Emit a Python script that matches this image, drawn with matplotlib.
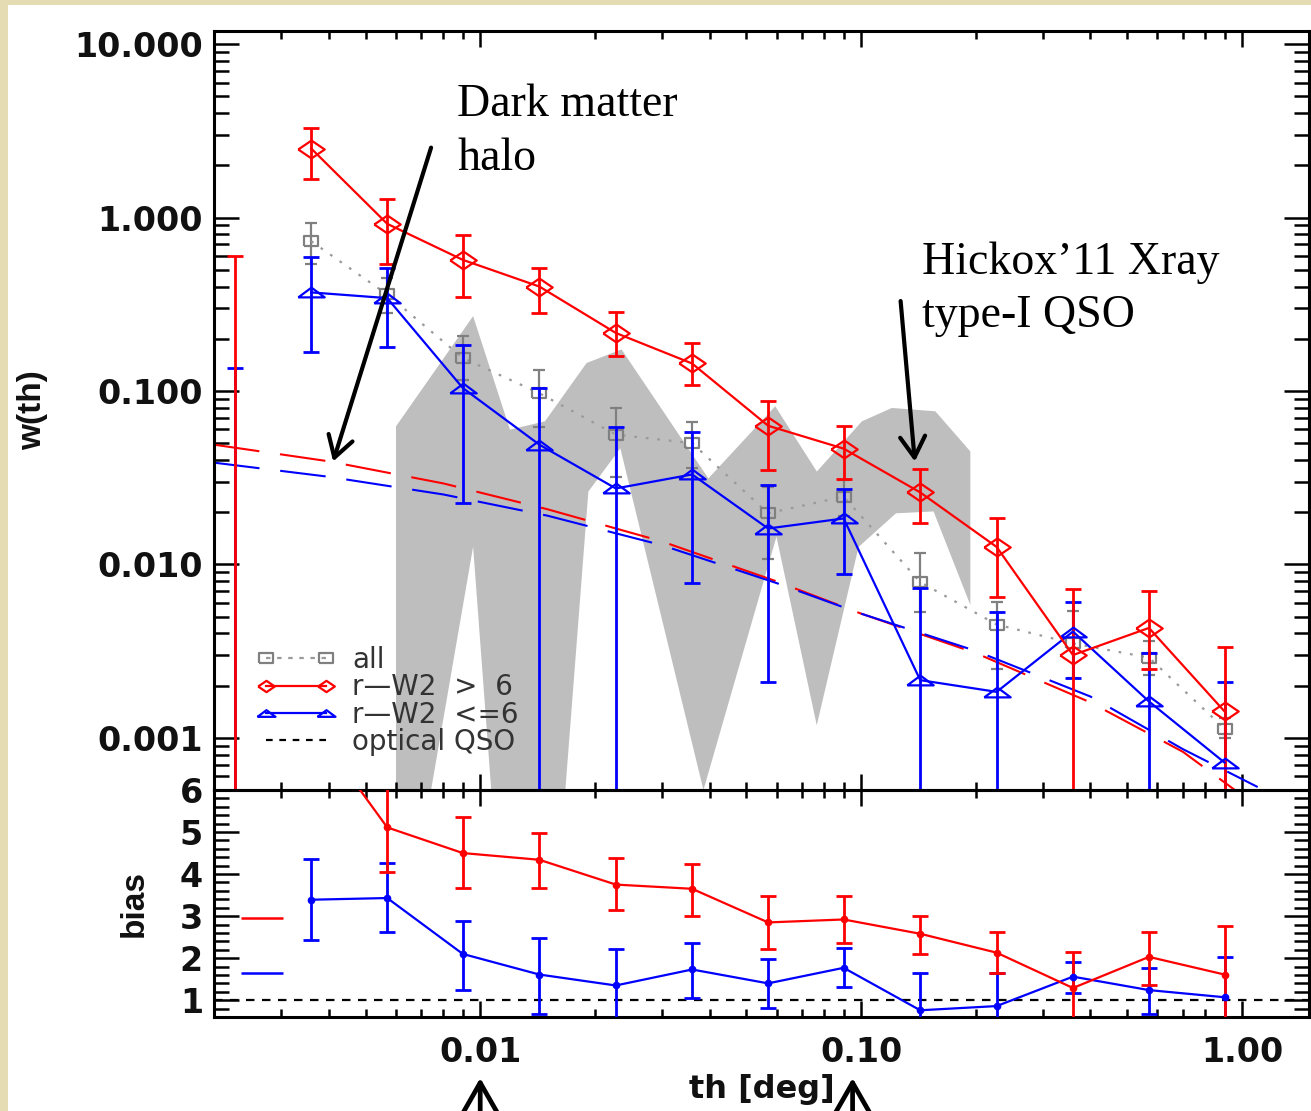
import matplotlib
matplotlib.use("Agg")
import matplotlib.pyplot as plt
import numpy as np
from matplotlib.ticker import LogLocator, FormatStrFormatter, MultipleLocator, NullFormatter
from matplotlib.lines import Line2D
from matplotlib.patches import Rectangle

plt.rcParams['font.family'] = ['Liberation Sans', 'DejaVu Sans']

# angular bins [deg]
theta = [0.00227, 0.0036, 0.0057, 0.0090, 0.0143, 0.0227, 0.036,
         0.057, 0.090, 0.143, 0.227, 0.36, 0.57, 0.90]

# w(theta): value, upper and lower end of error bar (1e-5 = runs off the axis)
red_w = [np.nan, 2.5, 0.92, 0.57, 0.40, 0.216, 0.144, 0.063, 0.0465, 0.026, 0.0126, 0.0030, 0.0043, 0.00142]
red_hi = [0.60, 3.3, 1.28, 0.79, 0.51, 0.285, 0.19, 0.088, 0.063, 0.0356, 0.0186, 0.0072, 0.0070, 0.00334]
red_lo = [1e-5, 1.67, 0.54, 0.35, 0.28, 0.16, 0.108, 0.035, 0.031, 0.0173, 0.0065, 1e-5, 0.0025, 1e-5]

blue_w = [np.nan, 0.37, 0.343, 0.104, 0.049, 0.0274, 0.033, 0.0161, 0.0184, 0.00215, 0.00184, 0.0041, 0.00162, 0.00072]
blue_hi = [0.136, 0.595, 0.51, 0.185, 0.104, 0.062, 0.058, 0.0288, 0.0271, 0.0073, 0.0053, 0.0061, 0.0031, 0.0021]
blue_lo = [1e-5, 0.168, 0.179, 0.0225, 1e-5, 1e-5, 0.0078, 0.0021, 0.00875, 1e-5, 1e-5, 0.0022, 1e-5, 1e-5]

all_w = [np.nan, 0.73, 0.36, 0.155, 0.097, 0.056, 0.050, 0.0197, 0.0246, 0.0079, 0.0045, 0.0035, 0.0029, 0.00113]
all_hi = [np.nan, 0.93, 0.45, 0.207, 0.132, 0.080, 0.066, 0.028, 0.0307, 0.0116, 0.0061, 0.0054, 0.0036, 0.0013]
all_lo = [np.nan, 0.54, 0.28, 0.115, 0.062, 0.032, 0.036, 0.0108, 0.019, 0.0053, 0.0025, 0.0022, 0.0023, 0.0010]

# bias
red_b = [np.nan, 7.6, 5.11, 4.50, 4.34, 3.75, 3.65, 2.85, 2.92, 2.58, 2.13, 1.29, 2.03, 1.61]
red_bhi = [np.nan, 8.5, 6.3, 5.36, 4.98, 4.38, 4.24, 3.47, 3.47, 3.01, 2.62, 2.15, 2.62, 2.76]
red_blo = [np.nan, 6.7, 4.06, 3.67, 3.67, 3.14, 3.01, 2.22, 2.36, 2.11, 1.65, 0.4, 1.37, 0.4]

blue_b = [np.nan, 3.39, 3.43, 2.10, 1.61, 1.35, 1.73, 1.40, 1.77, 0.76, 0.86, 1.56, 1.24, 1.07]
blue_bhi = [np.nan, 4.37, 4.26, 2.88, 2.48, 2.22, 2.36, 1.97, 2.23, 1.65, 1.65, 1.91, 1.77, 2.03]
blue_blo = [np.nan, 2.42, 2.62, 1.25, 0.66, 0.4, 1.06, 0.82, 1.32, 0.4, 0.4, 1.18, 0.66, 0.4]

optical_qso_bias = 1.0
halo_bias_red = 2.96
halo_bias_blue = 1.65
halo_bias_span = [0.00235, 0.00303]

# dark matter halo model curves
model_theta = [0.002, 0.004, 0.008, 0.015, 0.03, 0.06, 0.1, 0.2, 0.4, 0.7, 1.1]
model_red = [0.049, 0.0393, 0.0293, 0.0208, 0.01356, 0.00798, 0.0052, 0.00308, 0.0016, 0.00083, 0.0004]
model_blue = [0.0386, 0.032, 0.0253, 0.0191, 0.0129, 0.0078, 0.0052, 0.00317, 0.00173, 0.00086, 0.00052]

# Hickox'11 X-ray type-I QSO region (5e-4 = lower edge of the plot)
band_top_theta = [0.00601, 0.00601, 0.00958, 0.01197, 0.01479, 0.01903, 0.0235, 0.03973,
                  0.0595, 0.07653, 0.1005, 0.1205, 0.1567, 0.1936]
band_top_w = [5e-4, 0.0625, 0.270, 0.0598, 0.0668, 0.145, 0.1735, 0.0313,
              0.0816, 0.0343, 0.0668, 0.0798, 0.0763, 0.0448]
band_bot_theta = [0.1936, 0.155, 0.1235, 0.0985, 0.0765, 0.05996, 0.03856, 0.02333,
                  0.01923, 0.01673, 0.01069, 0.00958, 0.00743]
band_bot_w = [0.00583, 0.0202, 0.0197, 0.0126, 0.00118, 0.01445, 5e-4, 0.0467,
              0.0263, 5e-4, 5e-4, 0.01265, 5e-4]

RED = '#ff0000'
BLUE = '#0000ff'
GRAY = '#808080'

# stretched IDL-like symbols
diamond = [(-1, 0), (0, 0.68), (1, 0), (0, -0.68), (-1, 0)]
triangle = [(-1, -0.37), (1, -0.37), (0, 0.37), (-1, -0.37)]
square = [(-1, -0.7), (1, -0.7), (1, 0.7), (-1, 0.7), (-1, -0.7)]

W, H = 1311, 1111
fig = plt.figure(figsize=(W / 100, H / 100), dpi=100)
fig.patch.set_facecolor('#e6dcb4')
fig.add_artist(Rectangle((8 / W, 0), 1 - 8 / W, 1 - 5 / H, transform=fig.transFigure,
                         facecolor='white', edgecolor='none', zorder=-10))

ax1 = fig.add_axes([214 / W, 1 - 790 / H, 1095 / W, 759 / H])
ax2 = fig.add_axes([214 / W, 1 - 1017 / H, 1095 / W, 227 / H], sharex=ax1)
for ax in (ax1, ax2):
    ax.set_facecolor('none')


def errbars(ax, x, lo, hi, color, lw=2.0, cap=11):
    ax.vlines(x, lo, hi, colors=color, lw=lw, zorder=3)
    ax.plot(x, hi, ls='none', marker='_', ms=cap, mew=lw, color=color, zorder=3)
    ax.plot(x, lo, ls='none', marker='_', ms=cap, mew=lw, color=color, zorder=3)


# ---- top panel: w(theta)
bx = band_top_theta + band_bot_theta
by = band_top_w + band_bot_w
ax1.fill(bx, by, color='#bebebe', lw=0, zorder=1)

dash_long = (0, (22, 10))
ax1.plot(model_theta, model_red, color=RED, lw=1.5, ls=dash_long, zorder=2)
ax1.plot(model_theta, model_blue, color=BLUE, lw=1.5, ls=dash_long, zorder=2)

errbars(ax1, theta, all_lo, all_hi, GRAY, lw=1.6, cap=9)
ax1.plot(theta, all_w, color='#9a9a9a', lw=1.6, ls=(0, (1.2, 4)), marker=square, ms=10,
         mfc='none', mec=GRAY, mew=1.6, zorder=3)

errbars(ax1, theta, blue_lo, blue_hi, BLUE)
ax1.plot(theta, blue_w, color=BLUE, lw=1.6, marker=triangle, ms=19, mfc='none', mec=BLUE,
         mew=1.6, zorder=4)

errbars(ax1, theta, red_lo, red_hi, RED)
ax1.plot(theta, red_w, color=RED, lw=1.6, marker=diamond, ms=19, mfc='none', mec=RED,
         mew=1.6, zorder=4)

ax1.set_xscale('log')
ax1.set_yscale('log')
ax1.set_xlim(0.002, 1.5)
ax1.set_ylim(5e-4, 11.9)

handles = [
    Line2D([], [], color='#9a9a9a', lw=1.6, ls=(0, (2, 3)), marker=square, ms=10, mfc='none', mec=GRAY, mew=1.6),
    Line2D([], [], color=RED, lw=1.6, marker=diamond, ms=12, mfc='none', mec=RED, mew=1.6),
    Line2D([], [], color=BLUE, lw=1.6, marker=triangle, ms=13, mfc='none', mec=BLUE, mew=1.6),
    Line2D([], [], color='black', lw=1.6, ls=(0, (3, 3))),
]
labels = ['all', 'r\u2014W2  >  6', 'r\u2014W2  <=6', 'optical QSO']
ax1.legend(handles, labels, loc='upper left', bbox_to_anchor=(0.04, 0.19), frameon=False,
           numpoints=2, handlelength=2.75, handletextpad=0.65, labelspacing=-0.02,
           borderpad=0, borderaxespad=0, labelcolor='#333333',
           prop={'family': 'DejaVu Sans', 'size': 20})

# ---- bottom panel: bias
ax2.axhline(optical_qso_bias, color='black', lw=1.6, ls=(0, (3.8, 3.4)), zorder=2)
ax2.hlines(halo_bias_red, *halo_bias_span, color=RED, lw=1.8)
ax2.hlines(halo_bias_blue, *halo_bias_span, color=BLUE, lw=1.8)

errbars(ax2, theta, blue_blo, blue_bhi, BLUE)
ax2.plot(theta, blue_b, color=BLUE, lw=1.6, marker='o', ms=4.5, zorder=4)
errbars(ax2, theta, red_blo, red_bhi, RED)
ax2.plot(theta, red_b, color=RED, lw=1.6, marker='o', ms=4.5, zorder=4)
ax2.set_ylim(0.6, 6.0)

# ---- axes styling
tick_font = {'family': 'DejaVu Sans', 'weight': 'bold', 'size': 24}
for ax in (ax1, ax2):
    ax.tick_params(which='both', direction='in', top=True, right=True, width=1.8, colors='black')
    ax.tick_params(axis='x', which='major', length=11.5, pad=14)
    ax.tick_params(axis='x', which='minor', length=5.8)
    ax.tick_params(axis='y', which='major', length=18, pad=8)
    ax.tick_params(axis='y', which='minor', length=10.8)
    for sp in ax.spines.values():
        sp.set_linewidth(2.2)

ax1.xaxis.set_major_locator(LogLocator(base=10, numticks=10))
ax1.xaxis.set_minor_locator(LogLocator(base=10, subs=np.arange(2, 10), numticks=20))
ax1.yaxis.set_major_locator(LogLocator(base=10, numticks=10))
ax1.yaxis.set_minor_locator(LogLocator(base=10, subs=np.arange(2, 10), numticks=20))
ax1.yaxis.set_major_formatter(FormatStrFormatter('%.3f'))
ax1.yaxis.set_minor_formatter(NullFormatter())
ax1.tick_params(labelbottom=False)

ax2.xaxis.set_major_formatter(FormatStrFormatter('%.2f'))
ax2.xaxis.set_minor_formatter(NullFormatter())
ax2.yaxis.set_major_locator(MultipleLocator(1))
ax2.yaxis.set_minor_locator(MultipleLocator(0.2))
ax2.yaxis.set_major_formatter(FormatStrFormatter('%d'))

for ax in (ax1, ax2):
    for lab in ax.get_xticklabels() + ax.get_yticklabels():
        lab.set_fontproperties(tick_font)
        lab.set_color('#111111')

# rotated labels narrower (Liberation), horizontal one wider (DejaVu)
vlabel = dict(fontsize=24, fontweight='bold', family='Liberation Sans', color='#111111')
ax1.set_ylabel('w(th)', **vlabel)
ax1.yaxis.set_label_coords(-0.1516, 0.5)
ax2.set_ylabel('bias', **vlabel)
ax2.yaxis.set_label_coords(-0.0584, 0.5)
ax2.set_xlabel('th [deg]', fontsize=23, fontweight='bold', family='DejaVu Sans', color='#111111')
ax2.xaxis.set_label_coords(0.500, -0.25)

# ---- annotations
serif = dict(family='Liberation Serif', fontsize=33, color='black', ha='left', va='top',
             linespacing=1.33)
fig.text(457 / W, 1 - 84 / H, 'Dark matter\nhalo', **serif)
fig.text(922 / W, 1 - 241 / H, 'Hickox\u201911 Xray\ntype-I QSO', **serif)

arrow = dict(arrowstyle='->,head_length=0.75,head_width=0.45', lw=3, color='black',
             mutation_scale=20, shrinkA=0, shrinkB=0)
ax1.annotate('', xy=(0.00411, 0.0392), xytext=(0.00743, 2.53), arrowprops=arrow, zorder=6)
ax1.annotate('', xy=(0.1384, 0.0392), xytext=(0.127, 0.330), arrowprops=arrow, zorder=6)

up_arrow = dict(arrowstyle='->,head_length=1.05,head_width=0.6', lw=3.4, color='black',
                mutation_scale=20, shrinkA=0, shrinkB=0)
for tx in (0.01, 0.095):
    ax2.annotate('', xy=(tx, 1 - 1078 / H), xycoords=('data', 'figure fraction'),
                 xytext=(tx, -0.03), textcoords=('data', 'figure fraction'),
                 arrowprops=up_arrow, annotation_clip=False)

fig.savefig('out.png', dpi=100, facecolor=fig.get_facecolor())
